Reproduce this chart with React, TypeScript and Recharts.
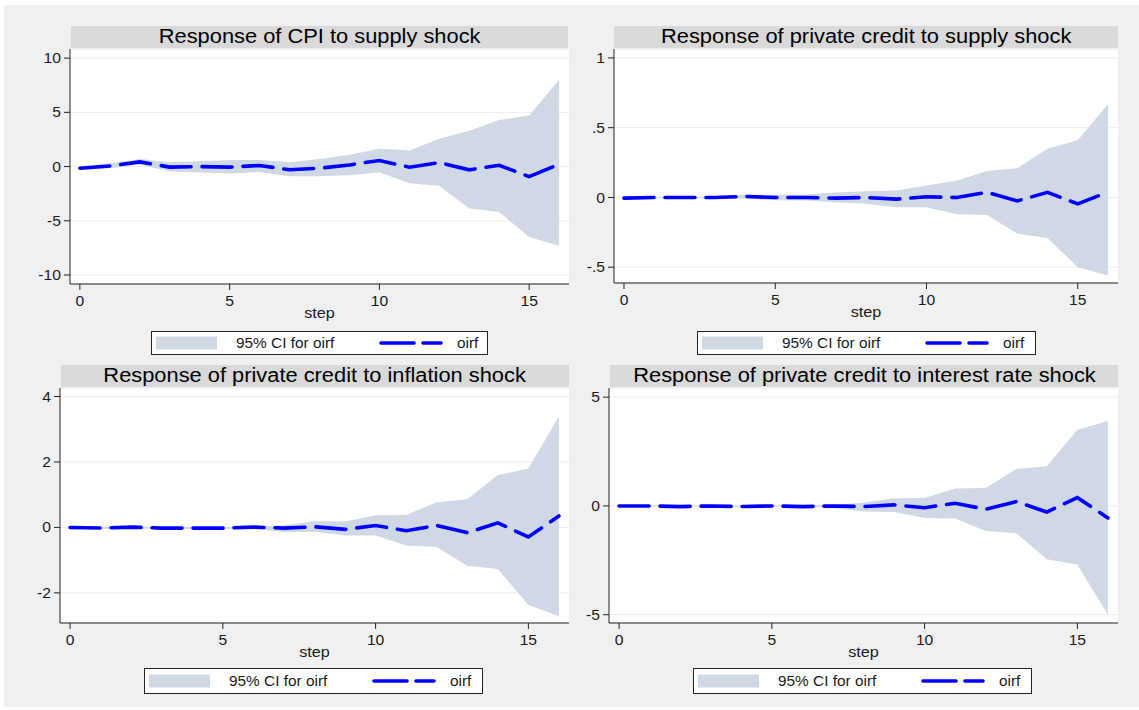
import { ComposedChart, Area, Line, XAxis, YAxis, CartesianGrid } from 'recharts';

// step axis shared by all four panels
const steps = [0, 1, 2, 3, 4, 5, 6, 7, 8, 9, 10, 11, 12, 13, 14, 15, 16];
const stepTicks = [0, 5, 10, 15];

// Response of CPI to supply shock
const cpiSupplyIrf = [-0.15, 0.05, 0.43, -0.05, 0.0, -0.05, 0.1, -0.3, -0.15, 0.15, 0.56, -0.06, 0.37, -0.3, 0.12, -0.93, 0.22];
const cpiSupplyLo = [-0.3, -0.15, 0.2, -0.45, -0.55, -0.65, -0.5, -0.9, -0.9, -0.8, -0.52, -1.54, -1.79, -3.86, -4.2, -6.5, -7.3];
const cpiSupplyHi = [0.0, 0.3, 0.7, 0.4, 0.5, 0.6, 0.6, 0.4, 0.7, 1.1, 1.64, 1.48, 2.56, 3.3, 4.3, 4.7, 8.0];
const cpiSupplyTicks = [-10, -5, 0, 5, 10];

// Response of private credit to supply shock
const creditSupplyIrf = [-0.005, 0, 0, 0, 0.007, 0, 0, -0.005, 0, -0.012, 0.005, 0, 0.037, -0.025, 0.037, -0.046, 0.038];
const creditSupplyLo = [-0.01, -0.005, -0.005, -0.006, -0.01, -0.02, -0.022, -0.035, -0.045, -0.07, -0.07, -0.12, -0.125, -0.26, -0.29, -0.5, -0.56];
const creditSupplyHi = [0.0, 0.003, 0.004, 0.005, 0.02, 0.02, 0.022, 0.035, 0.045, 0.05, 0.085, 0.12, 0.19, 0.21, 0.35, 0.41, 0.67];
const creditSupplyTicks = [-0.5, 0, 0.5, 1];

// Response of private credit to inflation shock
const creditInflIrf = [0, -0.02, 0.01, -0.02, -0.02, -0.02, 0.01, -0.02, 0.02, -0.06, 0.06, -0.1, 0.06, -0.16, 0.14, -0.29, 0.35];
const creditInflLo = [0, -0.05, -0.02, -0.05, -0.05, -0.05, -0.03, -0.15, -0.13, -0.25, -0.25, -0.55, -0.6, -1.17, -1.27, -2.37, -2.71];
const creditInflHi = [0, 0.01, 0.02, 0.01, 0.01, 0.01, 0.03, 0.07, 0.19, 0.18, 0.37, 0.38, 0.77, 0.86, 1.6, 1.8, 3.39];
const creditInflTicks = [-2, 0, 2, 4];

// Response of private credit to interest rate shock
const creditRateIrf = [0, 0, -0.03, 0, -0.03, 0, -0.03, 0, -0.03, 0.05, -0.08, 0.12, -0.15, 0.2, -0.28, 0.38, -0.55];
const creditRateLo = [-0.02, -0.02, -0.04, -0.02, -0.04, -0.03, -0.04, -0.1, -0.25, -0.28, -0.55, -0.58, -1.15, -1.25, -2.45, -2.7, -5.0];
const creditRateHi = [0.02, 0.02, 0.02, 0.02, 0.02, 0.02, 0.02, 0.06, 0.15, 0.35, 0.37, 0.8, 0.83, 1.7, 1.82, 3.5, 3.9];
const creditRateTicks = [-5, 0, 5];

const panels = [
  { title: 'Response of CPI to supply shock', irf: cpiSupplyIrf, lo: cpiSupplyLo, hi: cpiSupplyHi, yTicks: cpiSupplyTicks, yDomain: [-10.83, 10.84] },
  { title: 'Response of private credit to supply shock', irf: creditSupplyIrf, lo: creditSupplyLo, hi: creditSupplyHi, yTicks: creditSupplyTicks, yDomain: [-0.613, 1.064] },
  { title: 'Response of private credit to inflation shock', irf: creditInflIrf, lo: creditInflLo, hi: creditInflHi, yTicks: creditInflTicks, yDomain: [-2.92, 4.26] },
  { title: 'Response of private credit to interest rate shock', irf: creditRateIrf, lo: creditRateLo, hi: creditRateHi, yTicks: creditRateTicks, yDomain: [-5.38, 5.42] },
];

// page positions (px) of plot region, title bar and legend box for each panel
const layouts = [
  { plot: { l: 70, r: 569, t: 49, b: 284 }, title: { l: 71, r: 568, t: 26, b: 48 }, legend: { l: 151, t: 331, w: 337, h: 24 } },
  { plot: { l: 614, r: 1118, t: 49, b: 283 }, title: { l: 614, r: 1118, t: 26, b: 48 }, legend: { l: 697, t: 331, w: 339, h: 24 } },
  { plot: { l: 60, r: 569, t: 388, b: 623 }, title: { l: 61, r: 569, t: 365, b: 387 }, legend: { l: 144, t: 668, w: 339, h: 26 } },
  { plot: { l: 609, r: 1118, t: 388, b: 623 }, title: { l: 610, r: 1118, t: 365, b: 387 }, legend: { l: 693, t: 668, w: 339, h: 26 } },
];

const FONT = '"Liberation Sans", Arial, Helvetica, sans-serif';
const CI_FILL = '#d0d8e5';
const LINE_BLUE = '#0000ff';
const AXIS = '#222222';
const STRETCH = 1.12;

// stata style labels: .5, -.5
const fmt = (v: number) => (v === 0 ? '0' : String(v).replace(/^(-?)0\./, '$1.'));

function YTick(props: any) {
  const { x, y, payload } = props;
  return (
    <g transform={`translate(${x},${y}) scale(${STRETCH},1)`}>
      <text textAnchor="end" dy="0.36em" fontSize={14} fill="#1a1a1a" fontFamily={FONT}>
        {fmt(payload.value)}
      </text>
    </g>
  );
}

function XTick(props: any) {
  const { x, y, payload } = props;
  return (
    <g transform={`translate(${x},${y + 13.5}) scale(${STRETCH},1)`}>
      <text textAnchor="middle" fontSize={14} fill="#1a1a1a" fontFamily={FONT}>
        {fmt(payload.value)}
      </text>
    </g>
  );
}

function StepLabel(props: any) {
  const vb = props.viewBox || { x: 0, y: 0, width: 0 };
  return (
    <g transform={`translate(${vb.x + vb.width / 2},${vb.y + 34}) scale(1.08,1)`}>
      <text textAnchor="middle" fontSize={15} fill="#1a1a1a" fontFamily={FONT}>
        step
      </text>
    </g>
  );
}

function IrfLegend({ box }: { box: { l: number; t: number; w: number; h: number } }) {
  const mid = box.h / 2;
  return (
    <svg style={{ position: 'absolute', left: box.l, top: box.t }} width={box.w} height={box.h}>
      <rect x={0.5} y={0.5} width={box.w - 1} height={box.h - 1} fill="#fff" stroke={AXIS} />
      <rect x={5} y={mid - 6.5} width={61} height={13} fill={CI_FILL} />
      <g transform={`translate(85,${mid}) scale(1.1,1)`}>
        <text dy="0.36em" fontSize={14} fill="#1a1a1a" fontFamily={FONT}>95% CI for oirf</text>
      </g>
      <line x1={230} x2={290} y1={mid} y2={mid} stroke={LINE_BLUE} strokeWidth={3.6} strokeDasharray="33 9" strokeLinecap="round" />
      <g transform={`translate(306,${mid}) scale(1.1,1)`}>
        <text dy="0.36em" fontSize={14} fill="#1a1a1a" fontFamily={FONT}>oirf</text>
      </g>
    </svg>
  );
}

function IrfPanel({ panel, layout }: { panel: (typeof panels)[number]; layout: (typeof layouts)[number] }) {
  const { plot, title, legend } = layout;
  const yAxisW = 62;
  const xAxisH = 45;
  const chartLeft = plot.l - yAxisW;
  const width = plot.r - chartLeft;
  const height = plot.b - plot.t + xAxisH;

  const data = steps.map((s, i) => ({
    step: s,
    ci: [panel.lo[i], panel.hi[i]],
    oirf: panel.irf[i],
  }));

  return (
    <>
      {/* title bar */}
      <div
        style={{
          position: 'absolute',
          left: title.l,
          top: title.t,
          width: title.r - title.l,
          height: title.b - title.t,
          background: '#d9d9d9',
          display: 'flex',
          alignItems: 'center',
          justifyContent: 'center',
          overflow: 'hidden',
        }}
      >
        <span style={{ display: 'inline-block', fontSize: 19.5, lineHeight: 1, whiteSpace: 'nowrap', color: '#000', transform: 'scaleX(1.12)' }}>
          {panel.title}
        </span>
      </div>

      <div style={{ position: 'absolute', left: chartLeft, top: plot.t }}>
        <ComposedChart width={width} height={height} data={data} margin={{ top: 0, right: 0, bottom: 0, left: 0 }}>
          <CartesianGrid vertical={false} stroke="#ececec" fill="#ffffff" fillOpacity={1} />
          <XAxis
            type="number"
            dataKey="step"
            domain={[-0.33, 16.33]}
            ticks={stepTicks}
            allowDataOverflow
            height={xAxisH}
            tickSize={6}
            tickMargin={2}
            stroke={AXIS}
            tick={(p: any) => <XTick {...p} />}
            label={{ content: (p: any) => <StepLabel {...p} /> }}
          />
          <YAxis
            type="number"
            domain={panel.yDomain}
            ticks={panel.yTicks}
            allowDataOverflow
            width={yAxisW}
            tickSize={6}
            tickMargin={3}
            stroke={AXIS}
            tick={(p: any) => <YTick {...p} />}
          />
          <Area
            type="linear"
            dataKey="ci"
            fill={CI_FILL}
            fillOpacity={1}
            stroke="none"
            dot={false}
            activeDot={false}
            isAnimationActive={false}
          />
          <Line
            type="linear"
            dataKey="oirf"
            stroke={LINE_BLUE}
            strokeWidth={3.6}
            strokeDasharray="30 11"
            strokeLinecap="round"
            dot={false}
            activeDot={false}
            isAnimationActive={false}
          />
        </ComposedChart>
      </div>

      <IrfLegend box={legend} />
    </>
  );
}

export default function App() {
  return (
    <div style={{ position: 'absolute', left: 0, top: 0, width: 1139, height: 710, background: '#fff', fontFamily: FONT }}>
      <div style={{ position: 'absolute', left: 4, top: 5, width: 1135, height: 702, background: '#f0f0f0' }} />
      {panels.map((p, i) => (
        <IrfPanel key={p.title} panel={p} layout={layouts[i]} />
      ))}
    </div>
  );
}
